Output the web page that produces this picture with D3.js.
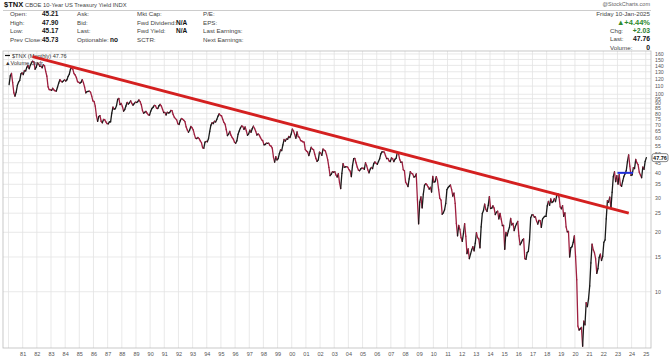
<!DOCTYPE html>
<html><head><meta charset="utf-8">
<script src="https://cdn.jsdelivr.net/npm/d3@7"></script>
<style>
body{margin:0;background:#fff}
svg{display:block;font-family:"Liberation Sans",Arial,sans-serif}
</style>
</head><body>
<svg id="c" width="670" height="358"></svg>
<script>
// ---------- DATA ----------
const startYear = 1980; // first monthly value = Jan 1980
const tnx1980s = [
112,124,127.5,114.7,101.8,97.8,102.5,111,115.1,117.5,126.8,128.4,
125.7,131.9,131.2,136.8,140,134.7,140.5,144.4,147,145.5,133.9,137.2,
143.9,142.3,138.6,138.7,136.2,141,139.5,130.6,123.4,109.1,105.5,105.4,
104.6,107.2,105.1,104,103.8,108.5,113.8,118.5,116.5,115.4,116.9,118.3,
116.7,118.4,123.2,126.3,134.1,135.6,133.6,127.2,125.2,121.6,115.7,115,
113.8,115.1,118.6,114.3,108.5,101.6,103.1,103.3,103.7,102.4,97.8,92.6,
91.9,87,77.8,73,77.1,78,73,71.7,74.5,74.3,72.5,71.1,
70.8,72.5,72.5,80.2,86.1,84,84.5,87.6,94.2,95.2,88.6,89.9,
86.7,82.1,83.7,87.2,90.9,89.2,90.6,92.6,89.8,88,89.6,91.1,
90.9,91.7,93.6,91.8,88.6,82.8,80.2,81.1,81.9,80.1,78.7,78.4];
const tnx1990s = [
82.1,84.7,85.9,87.9,87.6,84.8,84.7,87.5,88.9,87.2,83.9,80.8,
80.9,78.5,81.1,80.4,80.7,82.8,82.7,79,76.5,75.3,74.2,70.9,
70.3,73.4,75.4,74.8,73.9,72.6,68.4,65.9,64.2,65.9,68.7,67.7,
66,62.6,59.8,59.7,60.4,59.6,58.1,56.8,53.6,53.3,57.2,57.7,
57.5,59.7,64.8,69.7,71.8,71,73,72.4,74.6,77.4,79.6,78.1,
77.8,74.7,72,70.6,66.3,61.7,62.8,64.9,62,60.4,59.3,57.1,
56.5,58.1,62.7,65.1,67.4,69.1,68.7,66.4,68.3,65.3,62,63,
65.8,64.2,66.9,68.9,67.1,64.9,62.2,63,62.1,60.3,58.8,58.1,
55.4,55.7,56.5,56.4,56.5,55,54.6,53.4,48.1,45.3,48.3,46.5,
47.2,50,52.3,51.8,55.4,59,57.9,59.4,59.2,61.1,60.3,62.8];
const tnx2000s = [
66.6,65.2,62.6,59.9,64.4,61,60.5,58.3,58,57.4,57.2,52.4,
51.6,51,48.9,51.4,53.9,52.8,52.4,49.7,47.3,45.7,46.5,50.9,
50.4,49.1,52.8,52.1,51.6,49.3,46.5,42.6,38.7,39.4,40.5,40.3,
40.5,39,38.1,39.6,35.7,33.3,39.8,44.5,42.7,42.9,43,42.7,
41.5,40.8,38.3,43.5,47.2,47.3,45,42.8,41.3,41,41.9,42.3,
42.2,41.7,45,43.4,41.4,40,41.8,42.6,42,44.6,45.4,44.7,
44.2,45.7,47.2,49.9,51.1,51.1,50.9,48.8,47.2,47.3,46,45.6,
47.6,47.2,45.6,46.9,47.5,51,50,46.7,45.2,45.3,41.5,41,
35.9,35.1,34.1,37.3,40.6,39.7,39.5,38.1,38.3,39.5,29.2,22.1,
28.4,30.2,26.6,31.2,34.6,35.3,34.8,34,33.1,33.8,32,38.4];
const tnx2010s = [
35.9,36.1,38.3,36.6,32.9,29.7,29.1,24.7,25.1,26,28,32.9,
33.7,34.2,34.7,32.9,30.5,31.6,28,22.2,19.2,21.7,20.7,18.8,
18,19.7,22.1,19.1,15.6,16.5,14.7,15.5,16.3,16.9,16.1,17.6,
19.9,18.8,18.5,16.7,21.3,24.9,25.8,27.8,26.1,25.5,27.4,30.3,
26.4,26.5,27.2,26.5,24.6,25.3,25.6,23.4,24.9,23.3,21.6,21.7,
16.4,20,19.2,20.3,21.2,23.5,21.8,22.2,20.4,21.4,22.1,22.7,
19.2,17.3,17.7,18.3,18.5,14.7,14.6,15.8,16,18.3,23.7,24.5,
24.5,23.9,23.9,22.8,22,23,22.9,21.2,23.3,23.8,24.1,24.1,
27.2,28.7,27.4,29.5,28.3,28.6,29.6,28.6,30.6,31.4,30.1,26.9,
26.3,27.3,24.1,25.1,21.3,20.1,20.2,15,16.7,16.9,17.8,19.2];
const tnx2020s = [
15.1,11.5,6.7,6.4,6.5,6.6,5.3,7.1,6.8,8.8,8.4,9.2,
10.7,14,17.4,16.3,15.8,14.7,12.4,13.1,14.9,15.5,14.4,15.1,
17.8,18.3,23.4,28.9,28.4,30.1,26.5,31.9,38.3,40.5,36.1,38.7,
35.1,39.2,34.7,34.2,36.4,38.4,39.6,41.1,45.7,49.3,43.3,38.8,
39.1,42.5,42,46.8,45,44,40.3,39,37.8,42.8,41.7,45.7,
47.76];

const yTicks = [10,15,20,25,30,35,40,45,50,55,60,65,70,75,80,85,90,95,100,110,120,130,140,150,160];
const xTickYears = d3.range(1981, 2026);
const trendLine = [{t:1981.7, v:155}, {t:2023.8, v:25}];
const supportLine = [{t:2023.0, v:40}, {t:2024.1, v:40}];
const lastValue = 47.76;

const infoCols = [
  {labels:["Open:","High:","Low:","Prev Close:"], values:["45.21","47.90","45.17","45.73"]},
  {labels:["Ask:","Bid:","Last:","Optionable:"], values:["","","","no"]},
  {labels:["Mkt Cap:","Fwd Dividend:","Fwd Yield:","SCTR:"], values:["","N/A","N/A",""]},
  {labels:["P/E:","EPS:","Last Earnings:","Next Earnings:"], values:["","","",""]}
];

// ---------- SETUP ----------
const svg = d3.select("#c");
const L = 3, R = 651, T = 51, B = 348;

const values = [].concat(tnx1980s, tnx1990s, tnx2000s, tnx2010s, tnx2020s);
const series = values.map((v,i)=>({t: startYear + Math.floor(i/12) + ((i%12)+0.5)/12, v}));

const x = d3.scaleLinear().domain([1979.61, 2025.37]).range([L, R]);
const y = d3.scaleLog().domain([5.19, 165.6]).range([B, T]);

// header
svg.append("text").attr("x",4).attr("y",7).attr("font-size",7.5).attr("font-weight","bold").attr("fill","#111").text("$TNX");
svg.append("text").attr("x",25).attr("y",7).attr("font-size",5.8).attr("fill","#444").text("CBOE 10-Year US Treasury Yield INDX");
svg.append("text").attr("x",650).attr("y",6).attr("text-anchor","end").attr("font-size",5.5).attr("fill","#666").text("@StockCharts.com");
svg.append("line").attr("x1",L).attr("x2",R).attr("y1",10.5).attr("y2",10.5).attr("stroke","#ccc");

const rowY = [16, 24.5, 33, 41.5];
const colX = [{l:10,v:42},{l:77,v:110},{l:137,v:176},{l:203,v:240}];
infoCols.forEach((c,ci)=>{
  c.labels.forEach((lab,ri)=>{
    svg.append("text").attr("x",colX[ci].l).attr("y",rowY[ri]).attr("font-size",6.2).attr("fill","#444").text(lab);
    if (c.values[ri]) svg.append("text").attr("x",colX[ci].v).attr("y",rowY[ri]).attr("font-size",6.5).attr("font-weight","bold").attr("fill","#111").text(c.values[ri]);
  });
});
// right info box
svg.append("text").attr("x",650).attr("y",16).attr("text-anchor","end").attr("font-size",6.2).attr("fill","#444").text("Friday 10-Jan-2025");
svg.append("text").attr("x",650).attr("y",24.5).attr("text-anchor","end").attr("font-size",7.5).attr("font-weight","bold").attr("fill","#2e8b2e").text("▲+4.44%");
const rb = [["Chg:","+2.03","#2e7d2e"],["Last:","47.76","#111"],["Volume:","0","#111"]];
rb.forEach((r,i)=>{
  svg.append("text").attr("x",610).attr("y",33+i*8.3).attr("font-size",6.2).attr("fill","#444").text(r[0]);
  svg.append("text").attr("x",650).attr("y",33+i*8.3).attr("text-anchor","end").attr("font-size",6.8).attr("font-weight","bold").attr("fill",r[2]).text(r[1]);
});

// grid
const g = svg.append("g");
g.selectAll("line.vg").data(d3.range(1980,2026)).join("line").attr("class","vg")
  .attr("x1",d=>x(d)).attr("x2",d=>x(d)).attr("y1",T).attr("y2",B).attr("stroke","#e3e3e3").attr("stroke-width",0.8);
g.selectAll("line.hg").data(yTicks).join("line").attr("class","hg")
  .attr("x1",L).attr("x2",R).attr("y1",d=>y(d)).attr("y2",d=>y(d)).attr("stroke","#e3e3e3").attr("stroke-width",0.8);
svg.append("rect").attr("x",L).attr("y",T).attr("width",R-L).attr("height",B-T).attr("fill","none").attr("stroke","#bbb").attr("stroke-width",0.8);

// axes
const xAxis = d3.axisBottom(x).tickValues(xTickYears).tickSize(0).tickPadding(4).tickFormat(d=>String(d%100).padStart(2,"0"));
const xa = svg.append("g").attr("transform",`translate(0,${B})`).call(xAxis);
xa.select(".domain").remove();
xa.selectAll("text").attr("font-size",5.5).attr("fill","#555").attr("font-family","Liberation Sans, Arial, sans-serif");

const yAxis = d3.axisRight(y).tickValues(yTicks).tickSize(0).tickPadding(4).tickFormat(d3.format("d"));
const ya = svg.append("g").attr("transform",`translate(${R},0)`).call(yAxis);
ya.select(".domain").remove();
ya.selectAll("text").attr("font-size",5.2).attr("fill","#555").attr("font-family","Liberation Sans, Arial, sans-serif");

// price line, coloured by direction
const segs = d3.pairs(series);
svg.append("g").selectAll("line").data(segs).join("line")
  .attr("x1",d=>x(d[0].t)).attr("y1",d=>y(d[0].v))
  .attr("x2",d=>x(d[1].t)).attr("y2",d=>y(d[1].v))
  .attr("stroke",d=>d[1].v>=d[0].v ? "#1a1a1a" : "#9e1f3f")
  .attr("stroke-width",1.3).attr("stroke-linecap","round");

// legend
svg.append("line").attr("x1",5).attr("x2",10).attr("y1",55.5).attr("y2",55.5).attr("stroke","#111").attr("stroke-width",1.2);
svg.append("text").attr("x",12).attr("y",57.5).attr("font-size",5.6).attr("fill","#333").text("$TNX (Monthly) 47.76");
svg.append("text").attr("x",5).attr("y",64.5).attr("font-size",5.6).attr("fill","#333").text("▲Volume Undr");

// trend lines
const ln = d3.line().x(d=>x(d.t)).y(d=>y(d.v));
svg.append("path").attr("d",ln(trendLine)).attr("stroke","#d42020").attr("stroke-width",3).attr("fill","none");
svg.append("path").attr("d",ln(supportLine)).attr("stroke","#1f2fd8").attr("stroke-width",2).attr("fill","none");

// last value tag
const ly = y(lastValue);
svg.append("rect").attr("x",652).attr("y",ly-4).attr("width",16).attr("height",8).attr("rx",2).attr("fill","#fff").attr("stroke","#555").attr("stroke-width",0.7);
svg.append("text").attr("x",660).attr("y",ly+2.2).attr("text-anchor","middle").attr("font-size",5.5).attr("font-weight","bold").attr("fill","#111").text("47.76");
</script>
</body></html>
